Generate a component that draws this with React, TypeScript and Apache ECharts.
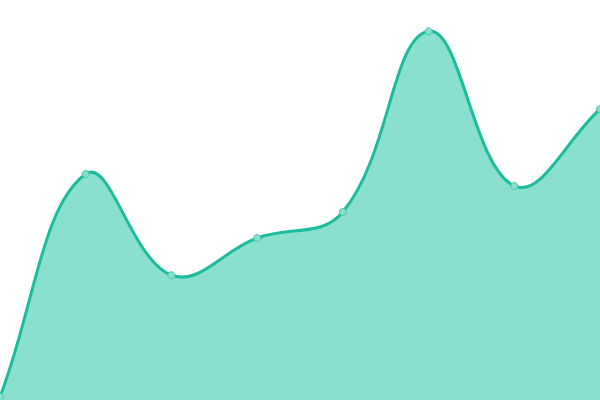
import React, { useEffect, useRef } from "react";
import * as echarts from "echarts";

const categories = ["1", "2", "3", "4", "5", "6", "7", "8"];
const values = [8, 565, 312, 405, 470, 922, 535, 727];

const TENSION = 0.4;

// spline control points: each point gets a tangent from its neighbours,
// split by the lengths of the two segments; a missing neighbour is the point itself
const controlPoints = (pts: number[][]) => {
  const cps: number[][][] = [];
  for (let i = 0; i < pts.length; i++) {
    const p = pts[i];
    const prev = pts[i - 1] || p;
    const next = pts[i + 1] || p;
    const d01 = Math.hypot(p[0] - prev[0], p[1] - prev[1]);
    const d12 = Math.hypot(next[0] - p[0], next[1] - p[1]);
    const s01 = d01 + d12 ? d01 / (d01 + d12) : 0;
    const s12 = d01 + d12 ? d12 / (d01 + d12) : 0;
    const fa = TENSION * s01;
    const fb = TENSION * s12;
    const dx = next[0] - prev[0];
    const dy = next[1] - prev[1];
    cps.push([
      [p[0] - fa * dx, p[1] - fa * dy],
      [p[0] + fb * dx, p[1] + fb * dy],
    ]);
  }
  return cps;
};

const curvePath = (pts: number[][]) => {
  const cps = controlPoints(pts);
  let d = `M${pts[0][0]},${pts[0][1]}`;
  for (let i = 1; i < pts.length; i++) {
    const c1 = cps[i - 1][1];
    const c2 = cps[i][0];
    d += ` C${c1[0]},${c1[1]} ${c2[0]},${c2[1]} ${pts[i][0]},${pts[i][1]}`;
  }
  return d;
};

const App = () => {
  const chartRef = useRef<HTMLDivElement>(null);

  useEffect(() => {
    const chart = echarts.init(chartRef.current, null, { renderer: "svg" });
    chart.setOption({
      animation: false,
      grid: { left: 0, right: 0, top: 0, bottom: 0 },
      xAxis: {
        type: "category",
        data: categories,
        boundaryGap: false,
        show: false,
      },
      yAxis: { type: "value", min: 0, max: 1000, show: false },
      series: [
        {
          type: "custom",
          data: values.map((v, i) => [i, v]),
          clip: false,
          z: 1,
          renderItem: (params: any, api: any) => {
            if (params.dataIndex !== 0) return null;
            const pts = values.map((v, i) => api.coord([i, v]));
            const base = api.coord([0, 0])[1];
            const line = curvePath(pts);
            const last = pts[pts.length - 1];
            const area = `${line} L${last[0]},${base} L${pts[0][0]},${base} Z`;
            return {
              type: "group",
              children: [
                {
                  type: "path",
                  shape: { pathData: area },
                  style: { fill: "#8ae0cf", stroke: "none" },
                },
                {
                  type: "path",
                  shape: { pathData: line },
                  style: { fill: "none", stroke: "#1abc9c", lineWidth: 3 },
                },
              ],
            };
          },
        },
        {
          type: "line",
          data: values,
          z: 3,
          symbol: "circle",
          symbolSize: 7,
          lineStyle: { width: 0, opacity: 0 },
          itemStyle: { color: "#8ae0cf", borderColor: "#45c7ac", borderWidth: 1 },
        },
      ],
    });
    return () => chart.dispose();
  }, []);

  return (
    <div
      ref={chartRef}
      style={{ position: "fixed", left: 0, top: 0, width: 600, height: 400 }}
    />
  );
};

export default App;
